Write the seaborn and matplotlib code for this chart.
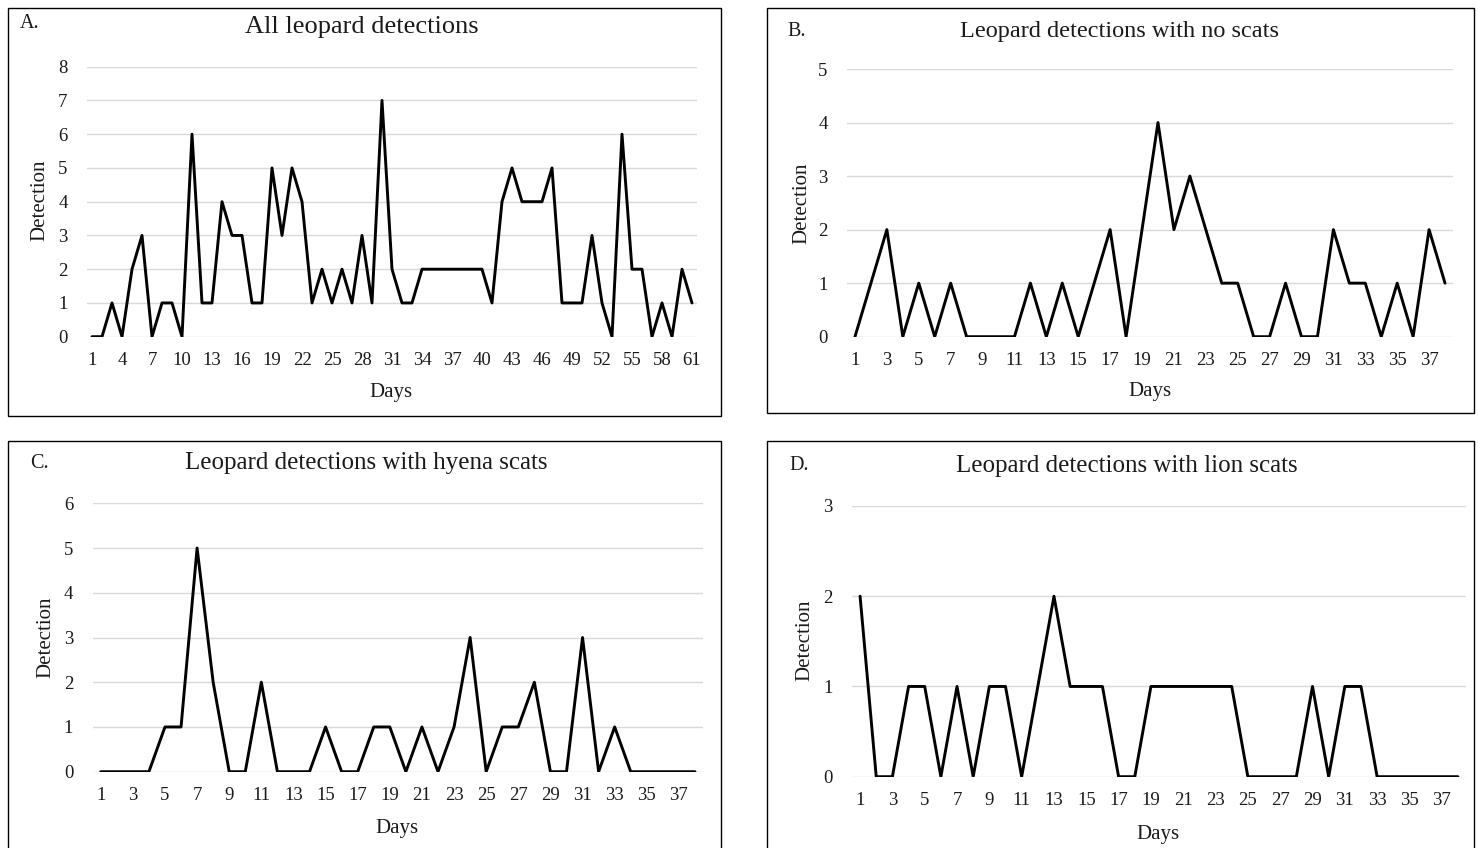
import numpy as np
import pandas as pd
import matplotlib
matplotlib.use("Agg")
import matplotlib.pyplot as plt
from matplotlib.patches import Rectangle
import seaborn as sns

# ---------------- data ----------------
days_a = list(range(1, 62))
all_detections = [0, 0, 1, 0, 2, 3, 0, 1, 1, 0,
                  6, 1, 1, 4, 3, 3, 1, 1, 5, 3,
                  5, 4, 1, 2, 1, 2, 1, 3, 1, 7,
                  2, 1, 1, 2, 2, 2, 2, 2, 2, 2,
                  1, 4, 5, 4, 4, 4, 5, 1, 1, 1,
                  3, 1, 0, 6, 2, 2, 0, 1, 0, 2,
                  1]

days_b = list(range(1, 39))
no_scats = [0, 1, 2, 0, 1, 0, 1, 0, 0, 0,
            0, 1, 0, 1, 0, 1, 2, 0, 2, 4,
            2, 3, 2, 1, 1, 0, 0, 1, 0, 0,
            2, 1, 1, 0, 1, 0, 2, 1]

days_c = list(range(1, 39))
hyena_scats = [0, 0, 0, 0, 1, 1, 5, 2, 0, 0,
               2, 0, 0, 0, 1, 0, 0, 1, 1, 0,
               1, 0, 1, 3, 0, 1, 1, 2, 0, 0,
               3, 0, 1, 0, 0, 0, 0, 0]

days_d = list(range(1, 39))
lion_scats = [2, 0, 0, 1, 1, 0, 1, 0, 1, 1,
              0, 1, 2, 1, 1, 1, 0, 0, 1, 1,
              1, 1, 1, 1, 0, 0, 0, 0, 1, 0,
              1, 1, 0, 0, 0, 0, 0, 0]

titles = ["All leopard detections",
          "Leopard detections with no scats",
          "Leopard detections with hyena scats",
          "Leopard detections with lion scats"]
letters = ["A.", "B.", "C.", "D."]
y_label = "Detection"
x_label = "Days"

# ---------------- style ----------------
sns.set_style("white")
plt.rcParams["font.family"] = ["Liberation Serif", "DejaVu Serif"]

W, H = 1478, 848
fig = plt.figure(figsize=(W / 100, H / 100), dpi=100)
fig.patch.set_facecolor("white")


def fx(x):
    return x / W


def fy(y):
    return 1 - y / H


def add_ax(left, top, right, bottom):
    return fig.add_axes([fx(left), fy(bottom), (right - left) / W, (bottom - top) / H])


panels = [
    dict(days=days_a, vals=all_detections, box=(87, 66.7, 697, 336.7), ymax=8, step=3,
         border=(8, 8, 721, 416), tpos=(362, 27), tsize=19, lpos=(20, 24),
         ylpos=(40, 200), xlpos=(391, 393)),
    dict(days=days_b, vals=no_scats, box=(847, 69, 1453, 336.7), ymax=5, step=2,
         border=(767, 8, 1474, 413), tpos=(1120, 32), tsize=17.5, lpos=(787, 32),
         ylpos=(802, 203), xlpos=(1150, 391)),
    dict(days=days_c, vals=hyena_scats, box=(92.7, 503.3, 703, 771.7), ymax=6, step=2,
         border=(8, 441, 721, 851), tpos=(366, 463), tsize=18, lpos=(30, 463),
         ylpos=(46, 637), xlpos=(397, 829)),
    dict(days=days_d, vals=lion_scats, box=(852, 506, 1466, 776.7), ymax=3, step=2,
         border=(767, 441, 1474, 851), tpos=(1127, 466), tsize=18, lpos=(789, 466),
         ylpos=(805, 640), xlpos=(1158, 834)),
]

for i, p in enumerate(panels):
    bl, bt, br, bb = p["border"]
    fig.patches.append(Rectangle((fx(bl), fy(bb)), (br - bl) / W, (bb - bt) / H,
                                 transform=fig.transFigure, fill=False,
                                 edgecolor="black", linewidth=1.0, zorder=0))

    ax = add_ax(*p["box"])
    df = pd.DataFrame({"Days": p["days"], "Detection": p["vals"]})
    sns.lineplot(data=df, x="Days", y="Detection", ax=ax, color="black",
                 linewidth=2.1, zorder=3)

    n = len(p["days"])
    ax.set_xlim(0.5, n + 0.5)
    ax.set_ylim(0, p["ymax"])
    ax.set_yticks(range(0, p["ymax"] + 1))
    ax.set_xticks(range(1, n + 1, p["step"]))
    ax.grid(axis="y", color="#d9d9d9", linewidth=1.0)
    ax.grid(axis="x", visible=False)
    ax.set_axisbelow(True)
    for s in ax.spines.values():
        s.set_visible(False)
    ax.tick_params(axis="both", length=0, labelsize=13.5, colors="#1a1a1a")
    ax.tick_params(axis="y", pad=14)
    ax.tick_params(axis="x", pad=11)
    ax.set_xlabel("")
    ax.set_ylabel("")

    fig.text(fx(p["tpos"][0]), fy(p["tpos"][1]), titles[i], ha="center", va="center",
             fontsize=p["tsize"], color="#1a1a1a")
    fig.text(fx(p["lpos"][0]), fy(p["lpos"][1]), letters[i], ha="left", va="center",
             fontsize=14.5, color="#1a1a1a")
    fig.text(fx(p["ylpos"][0]), fy(p["ylpos"][1]), y_label, ha="center", va="center",
             rotation=90, fontsize=15, color="#1a1a1a")
    fig.text(fx(p["xlpos"][0]), fy(p["xlpos"][1]), x_label, ha="center", va="center",
             fontsize=15, color="#1a1a1a")

fig.savefig("out.png", dpi=100, facecolor="white")
